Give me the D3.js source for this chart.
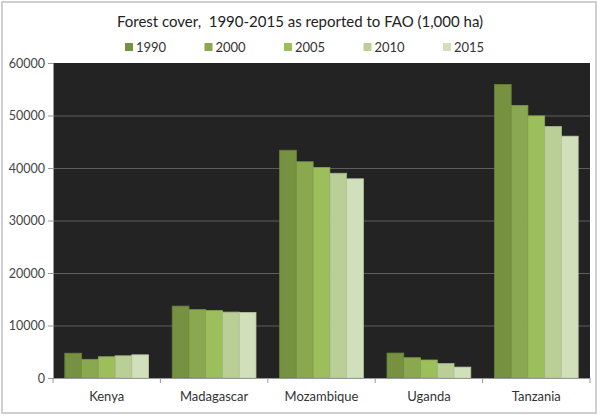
<!DOCTYPE html>
<html>
<head>
<meta charset="utf-8">
<script src="https://cdn.jsdelivr.net/npm/d3@7"></script>
<style>
  body { margin: 0; background: #fff; }
  text { font-family: Lato, "Open Sans", sans-serif; }
</style>
</head>
<body>
<svg id="chart" width="600" height="416"></svg>
<script>
var countries = ["Kenya", "Madagascar", "Mozambique", "Uganda", "Tanzania"];
var years = ["1990", "2000", "2005", "2010", "2015"];
var yTicks = [0, 10000, 20000, 30000, 40000, 50000, 60000];

// forest area per year, one array per country (1,000 ha)
var kenya      = [4724, 3557, 4047, 4230, 4413];
var madagascar = [13692, 13023, 12838, 12553, 12473];
var mozambique = [43378, 41188, 40093, 38998, 37940];
var uganda     = [4751, 3869, 3429, 2753, 2077];
var tanzania   = [55920, 51920, 49920, 47920, 46060];

var colors = ["#76913f", "#8aa84f", "#9dbf5b", "#b9cf95", "#d1e0ba"];

var rows = [kenya, madagascar, mozambique, uganda, tanzania];

var margin = { top: 63, right: 10, bottom: 38, left: 53 },
    width = 590 - margin.left,
    height = 378 - margin.top;

var svg = d3.select("#chart");

// outer frame
svg.append("rect")
    .attr("x", 2).attr("y", 2)
    .attr("width", 594).attr("height", 411)
    .attr("fill", "#fff")
    .attr("stroke", "#cfcfcf")
    .attr("stroke-width", 2);

svg.append("text")
    .attr("x", 300)
    .attr("y", 27)
    .attr("text-anchor", "middle")
    .attr("font-size", 15)
    .attr("fill", "#222")
    .style("white-space", "pre")
    .text("Forest cover,  1990-2015 as reported to FAO (1,000 ha)");

// legend
var legend = svg.append("g").selectAll("g")
    .data(years)
  .enter().append("g")
    .attr("transform", function(d, i) { return "translate(" + (125 + i * 79.5) + ",43)"; });

legend.append("rect")
    .attr("width", 8).attr("height", 8)
    .attr("fill", function(d, i) { return colors[i]; });

legend.append("text")
    .attr("x", 11)
    .attr("y", 8.5)
    .attr("font-size", 13)
    .attr("fill", "#333")
    .text(function(d) { return d; });

var g = svg.append("g")
    .attr("transform", "translate(" + margin.left + "," + margin.top + ")");

var x0 = d3.scaleBand()
    .domain(countries)
    .range([0, width])
    .paddingInner(0.22)
    .paddingOuter(0.11);

var x1 = d3.scaleBand()
    .domain(years)
    .range([0, x0.bandwidth()]);

var y = d3.scaleLinear()
    .domain([0, 60000])
    .range([height, 0]);

g.append("rect")
    .attr("width", width)
    .attr("height", height)
    .attr("fill", "#232323");

// gridlines
g.append("g").selectAll("line")
    .data(yTicks.slice(1, -1))
  .enter().append("line")
    .attr("x1", 0).attr("x2", width)
    .attr("y1", function(d) { return y(d) + 0.5; })
    .attr("y2", function(d) { return y(d) + 0.5; })
    .attr("stroke", "#5e5e5e");

var group = g.append("g").selectAll("g")
    .data(countries)
  .enter().append("g")
    .attr("transform", function(d) { return "translate(" + x0(d) + ",0)"; });

group.selectAll("rect")
    .data(function(d, i) { return rows[i].map(function(v, j) { return { year: years[j], value: v, k: j }; }); })
  .enter().append("rect")
    .attr("x", function(d) { return x1(d.year); })
    .attr("y", function(d) { return y(d.value); })
    .attr("width", x1.bandwidth())
    .attr("height", function(d) { return height - y(d.value); })
    .attr("fill", function(d) { return colors[d.k]; })
    .attr("stroke", function(d) { return d3.color(colors[d.k]).darker(0.35); })
    .attr("stroke-width", 0.8);

// y axis
var yAxis = g.append("g")
    .call(d3.axisLeft(y).tickValues(yTicks).tickSize(5).tickPadding(3).tickFormat(d3.format("d")));
yAxis.select(".domain").attr("stroke", "#999");
yAxis.selectAll(".tick line").attr("stroke", "#999");
yAxis.selectAll("text").attr("font-size", 12.5).attr("fill", "#444")
    .style("font-family", "Lato, 'Open Sans', sans-serif");

// x axis with ticks between categories
var xAxis = g.append("g")
    .attr("transform", "translate(0," + height + ")");
xAxis.append("line")
    .attr("x1", 0).attr("x2", width)
    .attr("y1", 0.5).attr("y2", 0.5)
    .attr("stroke", "#999");
xAxis.selectAll(".sep")
    .data(d3.range(countries.length + 1))
  .enter().append("line")
    .attr("x1", function(i) { return i * width / countries.length; })
    .attr("x2", function(i) { return i * width / countries.length; })
    .attr("y1", 0).attr("y2", 5)
    .attr("stroke", "#999");
xAxis.selectAll(".lbl")
    .data(countries)
  .enter().append("text")
    .attr("x", function(d) { return x0(d) + x0.bandwidth() / 2; })
    .attr("y", 23)
    .attr("text-anchor", "middle")
    .attr("font-size", 13)
    .attr("fill", "#333")
    .text(function(d) { return d; });
</script>
</body>
</html>
